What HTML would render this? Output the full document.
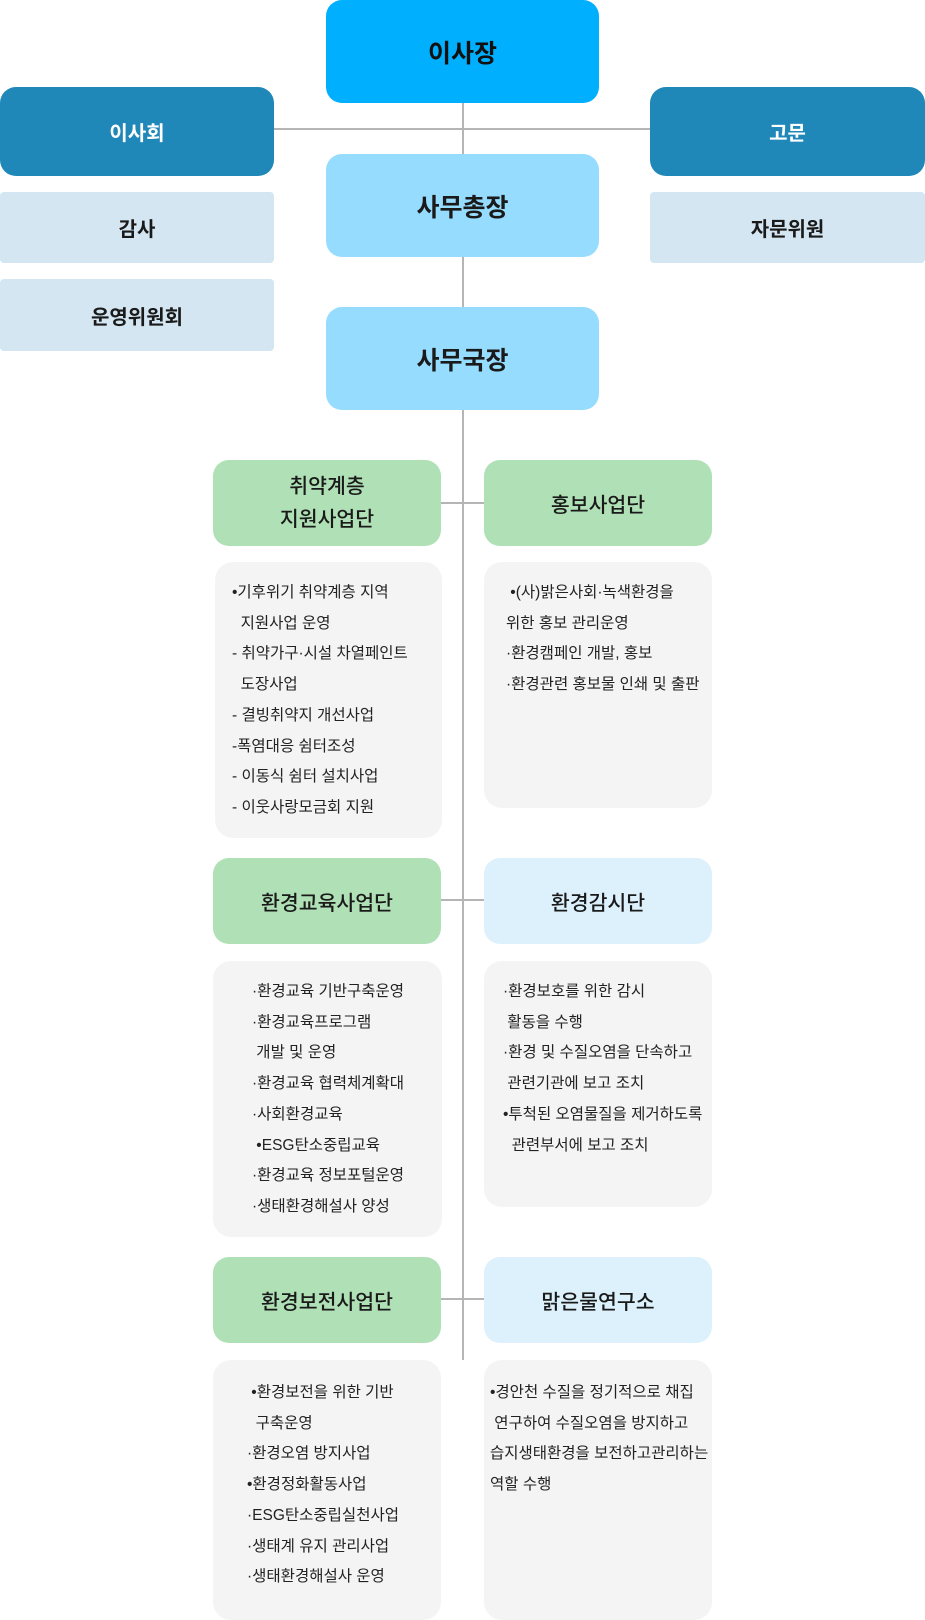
<!DOCTYPE html>
<html><head><meta charset="utf-8"><style>
*{margin:0;padding:0;box-sizing:border-box}
body{width:925px;height:1607px;background:#fff;position:relative;overflow:hidden;font-family:"Liberation Sans","Noto Sans CJK KR",sans-serif;color:#1a1a1a}
.b{position:absolute;display:flex;align-items:center;justify-content:center;text-align:center}
.g{font-size:20.5px;font-weight:500}
.l{position:absolute;background:#b5b5b5}
.d{position:absolute;background:#f4f4f4;border-radius:18px;font-size:15.5px;line-height:30.7px;white-space:pre;color:#222}
</style></head><body>
<div class="l" style="left:462px;top:100px;width:2px;height:1260px"></div>
<div class="l" style="left:272px;top:128px;width:380px;height:2px"></div>
<div class="l" style="left:440px;top:502px;width:46px;height:2px"></div>
<div class="l" style="left:440px;top:899px;width:46px;height:2px"></div>
<div class="l" style="left:440px;top:1298px;width:46px;height:2px"></div>

<div class="b" style="left:326px;top:0;width:273px;height:103px;background:#00b0ff;border-radius:16px;font-size:25px;font-weight:bold;color:#111">이사장</div>
<div class="b" style="left:0;top:87px;width:274px;height:89px;background:#2088b8;border-radius:16px;font-size:20px;font-weight:bold;color:#fff">이사회</div>
<div class="b" style="left:650px;top:87px;width:275px;height:89px;background:#2088b8;border-radius:16px;font-size:20px;font-weight:bold;color:#fff">고문</div>
<div class="b" style="left:0;top:192px;width:274px;height:71px;background:#d3e6f2;border-radius:4px;font-size:20px;font-weight:bold">감사</div>
<div class="b" style="left:0;top:279px;width:274px;height:72px;background:#d3e6f2;border-radius:4px;font-size:20px;font-weight:bold">운영위원회</div>
<div class="b" style="left:650px;top:192px;width:275px;height:71px;background:#d3e6f2;border-radius:4px;font-size:20px;font-weight:bold">자문위원</div>
<div class="b" style="left:326px;top:154px;width:273px;height:103px;background:#96dcfe;border-radius:16px;font-size:25px;font-weight:bold">사무총장</div>
<div class="b" style="left:326px;top:307px;width:273px;height:103px;background:#96dcfe;border-radius:16px;font-size:25px;font-weight:bold">사무국장</div>

<div class="b g" style="left:213px;top:460px;width:228px;height:86px;background:#b0e0b6;border-radius:16px;line-height:33px">취약계층<br>지원사업단</div>
<div class="b g" style="left:484px;top:460px;width:228px;height:86px;background:#b0e0b6;border-radius:16px">홍보사업단</div>
<div class="d" style="left:215px;top:562px;width:227px;height:276px;padding:16px 0 0 17px">•기후위기 취약계층 지역
  지원사업 운영
- 취약가구·시설 차열페인트
  도장사업
- 결빙취약지 개선사업
-폭염대응 쉼터조성
- 이동식 쉼터 설치사업
- 이웃사랑모금회 지원</div>
<div class="d" style="left:484px;top:562px;width:228px;height:246px;padding:16px 0 0 22px"> •(사)밝은사회·녹색환경을
위한 홍보 관리운영
·환경캠페인 개발, 홍보
·환경관련 홍보물 인쇄 및 출판</div>

<div class="b g" style="left:213px;top:858px;width:228px;height:86px;background:#b0e0b6;border-radius:16px">환경교육사업단</div>
<div class="b g" style="left:484px;top:858px;width:228px;height:86px;background:#dcf1fc;border-radius:16px">환경감시단</div>
<div class="d" style="left:213px;top:961px;width:229px;height:276px;padding:16px 0 0 39px">·환경교육 기반구축운영
·환경교육프로그램
 개발 및 운영
·환경교육 협력체계확대
·사회환경교육
 •ESG탄소중립교육
·환경교육 정보포털운영
·생태환경해설사 양성</div>
<div class="d" style="left:484px;top:961px;width:228px;height:246px;padding:16px 0 0 19px">·환경보호를 위한 감시
 활동을 수행
·환경 및 수질오염을 단속하고
 관련기관에 보고 조치
•투척된 오염물질을 제거하도록
  관련부서에 보고 조치</div>

<div class="b g" style="left:213px;top:1257px;width:228px;height:86px;background:#b0e0b6;border-radius:16px">환경보전사업단</div>
<div class="b g" style="left:484px;top:1257px;width:228px;height:86px;background:#dcf1fc;border-radius:16px">맑은물연구소</div>
<div class="d" style="left:213px;top:1360px;width:228px;height:260px;padding:18px 0 0 34px"> •환경보전을 위한 기반
  구축운영
·환경오염 방지사업
•환경정화활동사업
·ESG탄소중립실천사업
·생태계 유지 관리사업
·생태환경해설사 운영</div>
<div class="d" style="left:484px;top:1360px;width:228px;height:260px;padding:18px 0 0 6px">•경안천 수질을 정기적으로 채집
 연구하여 수질오염을 방지하고
습지생태환경을 보전하고관리하는
역할 수행</div>
</body></html>
